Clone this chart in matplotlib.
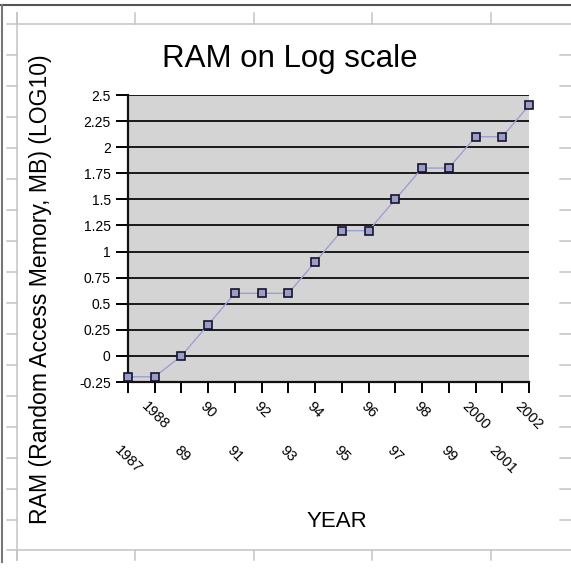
import numpy as np
import matplotlib.pyplot as plt
from matplotlib.lines import Line2D

plt.rcParams['font.family'] = ['Liberation Sans', 'DejaVu Sans']

# data
years = ['1987', '1988', '89', '90', '91', '92', '93', '94', '95', '96',
         '97', '98', '99', '2000', '2001', '2002']
ram_log10 = [-0.2, -0.2, 0.0, 0.3, 0.6, 0.6, 0.6, 0.9, 1.2, 1.2,
             1.5, 1.8, 1.8, 2.1, 2.1, 2.4]
y_ticks = [-0.25, 0, 0.25, 0.5, 0.75, 1, 1.25, 1.5, 1.75, 2, 2.25, 2.5]
y_tick_labels = ['-0.25', '0', '0.25', '0.5', '0.75', '1', '1.25', '1.5',
                 '1.75', '2', '2.25', '2.5']

W = H = 571
fig = plt.figure(figsize=(W / 100, H / 100), dpi=100)
ax = fig.add_axes([128 / W, 1 - 382 / H, 401 / W, 287 / H])

x = np.arange(len(years))
ax.plot(x, ram_log10, color='#9e9ed6', lw=1.0, marker='s', ms=5.8,
        mfc='#9c9cc8', mec='#14142e', mew=1.2, clip_on=False, zorder=3)

ax.set_facecolor('#d4d4d4')
ax.set_xlim(0, len(years) - 1)
ax.set_ylim(-0.25, 2.5)
ax.set_yticks(y_ticks, y_tick_labels)
for t in y_ticks[1:]:
    ax.axhline(t, color='#1a1a1a', lw=1.4, zorder=1)

# alternate rows of year labels: odd ones on major ticks, even ones lower
ax.set_xticks(x[1::2], years[1::2], rotation=-45, ha='center')
ax.set_xticks(x[0::2], years[0::2], minor=True, rotation=-45, ha='center')
ax.tick_params(axis='x', which='major', length=8, width=1.4, pad=4.5, labelsize=10.5)
ax.tick_params(axis='x', which='minor', length=8, width=1.4, pad=36, labelsize=10.5)
ax.tick_params(axis='y', length=9, width=1.4, pad=3.5, labelsize=10)

for s in ['left', 'bottom']:
    ax.spines[s].set_linewidth(1.6)
    ax.spines[s].set_color('#111111')
ax.spines['right'].set_visible(False)
ax.spines['top'].set_visible(False)

fig.text(290 / W, 1 - 67 / H, 'RAM on Log scale', fontsize=22.5,
         ha='center', va='baseline')
fig.text(41 / W, 1 - 289 / H, 'RAM (Random Access Memory, MB) (LOG10)',
         fontsize=16.6, rotation=90, ha='center', va='center')
fig.text(337 / W, 1 - 527 / H, 'YEAR', fontsize=16, ha='center', va='baseline')


# spreadsheet frame around the chart
def px_line(x0, y0, x1, y1, color, lw):
    fig.add_artist(Line2D([x0 / W, x1 / W], [1 - y0 / H, 1 - y1 / H],
                          transform=fig.transFigure, color=color, lw=lw))


px_line(0, 5, W, 5, '#555555', 1.5)
px_line(2, 5, 2, 562, '#777777', 1.5)
light = '#c4c4c4'
px_line(7, 24, W, 24, light, 1.1)
px_line(17, 13, 17, 560, light, 1.1)
px_line(7, 550, W, 550, light, 1.1)
for tx in [17, 135, 254, 372, 491]:
    px_line(tx, 13, tx, 24, light, 1.1)
    px_line(tx, 550, tx, 560, light, 1.1)
for ty in np.arange(55, 545, 31):
    px_line(7, ty, 17, ty, light, 1.1)
    px_line(560, ty, W, ty, light, 1.1)

plt.savefig('out.png', dpi=100)
